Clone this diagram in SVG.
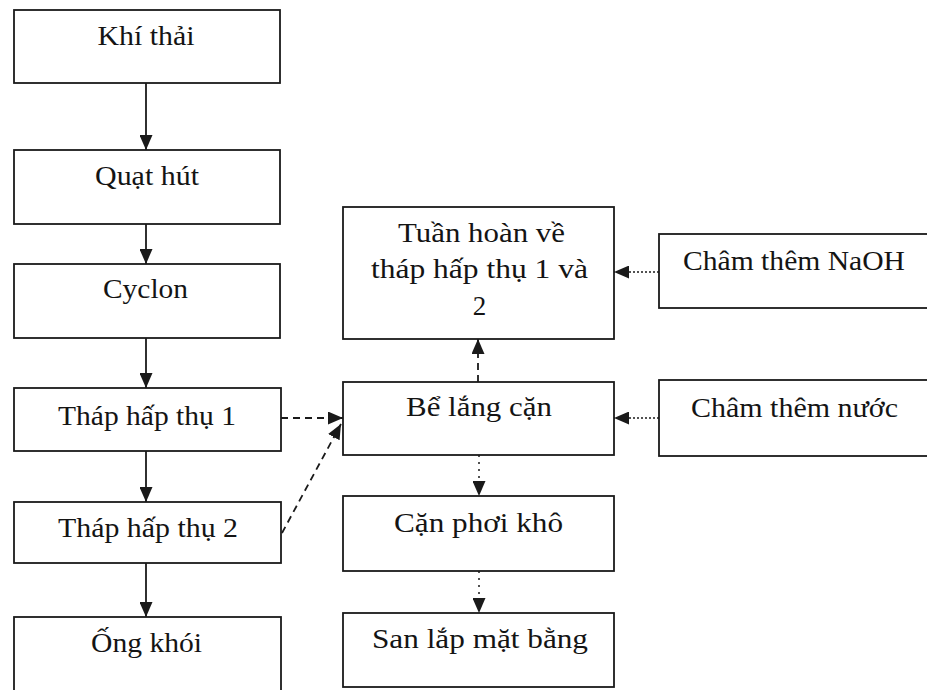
<svg xmlns="http://www.w3.org/2000/svg" width="927" height="690" viewBox="0 0 927 690">
<style>
.box{fill:#fff;stroke:#1a1a1a;stroke-width:1.8}
.t{font-family:"Liberation Serif","Times New Roman",serif;font-size:27px;fill:#141414;text-anchor:middle}
.c{fill:none;stroke:#1a1a1a;stroke-width:1.8}
.solid{marker-end:url(#ah)}
.dash{stroke-dasharray:7 5;marker-end:url(#ah)}
.dot{stroke-dasharray:2 2;stroke-width:1.5;marker-end:url(#ah)}
.dotv{stroke-dasharray:2 5;stroke-width:1.5;marker-end:url(#ah)}
</style>
<defs>
<marker id="ah" markerUnits="userSpaceOnUse" markerWidth="15" markerHeight="13" viewBox="0 0 15 13" refX="15" refY="6.5" orient="auto">
<path d="M0,0 L15,6.5 L0,13 z" fill="#1a1a1a"/>
</marker>
</defs>
<rect width="927" height="690" fill="#fff"/>
<g id="khi-thai"><rect class="box" x="14" y="10" width="266" height="73"/><text class="t" x="146" y="45" textLength="97" lengthAdjust="spacingAndGlyphs">Khí thải</text></g>
<g id="quat-hut"><rect class="box" x="14" y="150" width="266" height="74"/><text class="t" x="147" y="185" textLength="104" lengthAdjust="spacingAndGlyphs">Quạt hút</text></g>
<g id="cyclon"><rect class="box" x="14" y="264" width="266" height="74"/><text class="t" x="145.5" y="298" textLength="85" lengthAdjust="spacingAndGlyphs">Cyclon</text></g>
<g id="thap-1"><rect class="box" x="14" y="388" width="267" height="63"/><text class="t" x="147" y="425" textLength="178" lengthAdjust="spacingAndGlyphs">Tháp hấp thụ 1</text></g>
<g id="thap-2"><rect class="box" x="14" y="502" width="267" height="61"/><text class="t" x="148" y="537" textLength="180" lengthAdjust="spacingAndGlyphs">Tháp hấp thụ 2</text></g>
<g id="ong-khoi"><rect class="box" x="14" y="617" width="267" height="90"/><text class="t" x="146.5" y="652" textLength="111" lengthAdjust="spacingAndGlyphs">Ống khói</text></g>
<g id="tuan-hoan"><rect class="box" x="343" y="207" width="271" height="132"/>
<text class="t" x="481.5" y="242" textLength="167" lengthAdjust="spacingAndGlyphs">Tuần hoàn về</text>
<text class="t" x="479.5" y="278" textLength="217" lengthAdjust="spacingAndGlyphs">tháp hấp thụ 1 và</text>
<text class="t" x="479.5" y="315">2</text></g>
<g id="be-lang"><rect class="box" x="343" y="382" width="271" height="73"/><text class="t" x="479" y="416" textLength="146" lengthAdjust="spacingAndGlyphs">Bể lắng cặn</text></g>
<g id="can-phoi"><rect class="box" x="343" y="496" width="271" height="75"/><text class="t" x="478.5" y="532" textLength="169" lengthAdjust="spacingAndGlyphs">Cặn phơi khô</text></g>
<g id="san-lap"><rect class="box" x="343" y="613" width="271" height="74"/><text class="t" x="480" y="648" textLength="216" lengthAdjust="spacingAndGlyphs">San lắp mặt bằng</text></g>
<g id="naoh"><rect class="box" x="659" y="234" width="280" height="74"/><text class="t" x="794" y="270" textLength="222" lengthAdjust="spacingAndGlyphs">Châm thêm NaOH</text></g>
<g id="nuoc"><rect class="box" x="659" y="380" width="280" height="76"/><text class="t" x="794.5" y="417" textLength="207" lengthAdjust="spacingAndGlyphs">Châm thêm nước</text></g>
<g id="connectors">
<line class="c solid" x1="146" y1="83" x2="146" y2="150"/>
<line class="c solid" x1="146" y1="224" x2="146" y2="264"/>
<line class="c solid" x1="146" y1="338" x2="146" y2="388"/>
<line class="c solid" x1="146" y1="451" x2="146" y2="502"/>
<line class="c solid" x1="146" y1="563" x2="146" y2="617"/>
<line class="c dash" x1="281" y1="418" x2="343" y2="418"/>
<line class="c dash" x1="282" y1="533" x2="341" y2="424"/>
<line class="c dash" x1="478" y1="382" x2="478" y2="339"/>
<line class="c dot" x1="659" y1="272" x2="614" y2="272"/>
<line class="c dot" x1="659" y1="418" x2="614" y2="418"/>
<line class="c dotv" x1="479" y1="455" x2="479" y2="496"/>
<line class="c dotv" x1="479" y1="571" x2="479" y2="613"/>
</g>
</svg>
